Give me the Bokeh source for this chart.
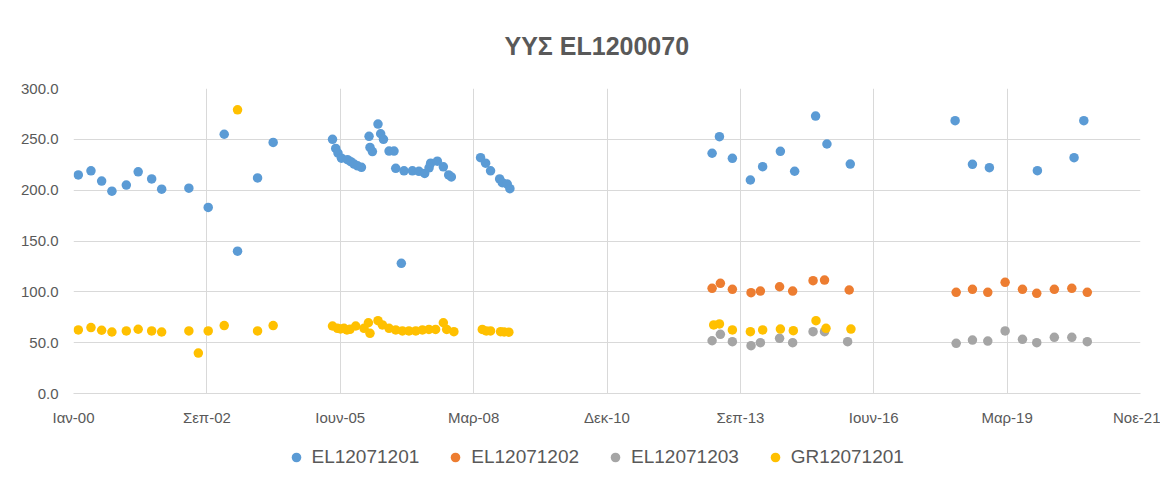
import pandas as pd
from bokeh.plotting import figure
from bokeh.layouts import column
from bokeh.models import FixedTicker, NumeralTickFormatter, Legend, LegendItem, Title
from bokeh.embed import file_html
from bokeh.resources import INLINE

TITLE = "ΥΥΣ EL1200070"
ORIGIN = "2000-01-01"

x_tick_days = [0, 1000, 2000, 3000, 4000, 5000, 6000, 7000, 8000]
x_tick_labels = ["Ιαν-00", "Σεπ-02", "Ιουν-05", "Μαρ-08", "Δεκ-10", "Σεπ-13", "Ιουν-16", "Μαρ-19", "Νοε-21"]
y_ticks = [0, 50, 100, 150, 200, 250, 300]

s1_name = "EL12071201"
s1_dates = ["2000-02-06", "2000-05-11", "2000-07-30", "2000-10-15", "2001-01-31", "2001-04-30",
            "2001-08-09", "2001-10-23", "2002-05-15", "2002-10-07", "2003-02-04", "2003-05-15",
            "2003-10-12", "2004-02-06",
            "2005-04-26", "2005-05-20", "2005-06-06", "2005-07-02", "2005-08-16", "2005-09-10",
            "2005-10-05", "2005-10-30", "2005-11-29", "2006-01-25", "2006-02-01", "2006-02-19",
            "2006-04-02", "2006-04-22", "2006-05-13", "2006-06-24", "2006-07-31", "2006-08-13",
            "2006-09-24", "2006-10-14", "2006-12-16", "2007-02-03", "2007-03-18", "2007-04-20",
            "2007-05-02", "2007-06-21", "2007-08-05", "2007-09-14", "2007-10-04",
            "2008-05-10", "2008-06-17", "2008-07-24", "2008-09-30", "2008-10-20", "2008-11-26",
            "2008-12-16",
            "2013-02-09", "2013-04-05", "2013-07-11", "2013-11-23", "2014-02-23", "2014-07-06",
            "2014-10-21", "2015-03-27", "2015-06-20", "2015-12-12",
            "2018-02-05", "2018-06-15", "2018-10-20", "2019-10-15", "2020-07-16", "2020-09-27"]
s1_values = [215, 219, 209, 199, 205, 218,
             211, 201, 202, 183, 255, 140,
             212, 247,
             250, 241, 236.5, 231.5, 230, 228,
             225.7, 224, 222.5, 253, 242, 238,
             265, 255.5, 250, 238.5, 238.5, 221.5,
             128, 219, 219, 218.5, 216.5, 222,
             226.5, 228.5, 223, 215, 213,
             232, 226.5, 219, 211, 207.4, 206,
             201.5,
             236.3, 252.6, 231.3, 210, 223.1, 238.2,
             218.6, 272.9, 245.4, 225.7,
             268.3, 225.4, 222.1, 219.2, 232, 268.3]

s2_name = "EL12071202"
s2_dates = ["2013-02-09", "2013-04-12", "2013-07-11", "2013-11-28", "2014-02-06", "2014-06-30",
            "2014-10-06", "2015-03-08", "2015-06-02", "2015-12-04",
            "2018-02-13", "2018-06-15", "2018-10-08", "2019-02-15", "2019-06-25", "2019-10-10",
            "2020-02-19", "2020-06-29", "2020-10-23"]
s2_values = [103.5, 108.4, 102.5, 99.2, 100.8, 105,
             100.8, 111, 111.6, 101.8,
             99.5, 102.5, 99.5, 109.4, 102.5, 98.5,
             102.5, 103.5, 99.5]

s3_name = "EL12071203"
s3_dates = ["2013-02-09", "2013-04-12", "2013-07-11", "2013-11-28", "2014-02-06", "2014-06-30",
            "2014-10-06", "2015-03-08", "2015-06-02", "2015-11-22",
            "2018-02-13", "2018-06-15", "2018-10-08", "2019-02-15", "2019-06-25", "2019-10-10",
            "2020-02-19", "2020-06-29", "2020-10-23"]
s3_values = [51.9, 58.2, 51, 47, 50, 54.3,
             50, 60.8, 60.8, 51,
             49.4, 52.6, 51.6, 61.5, 53.3, 50,
             55.3, 55.3, 51]

s4_name = "GR12071201"
s4_dates = ["2000-02-06", "2000-05-11", "2000-07-30", "2000-10-15", "2001-01-31", "2001-04-30",
            "2001-08-09", "2001-10-23", "2002-05-15", "2002-07-25", "2002-10-07", "2003-02-04",
            "2003-05-15", "2003-10-12", "2004-02-06",
            "2005-04-26", "2005-06-02", "2005-06-25", "2005-07-21", "2005-08-12", "2005-09-04",
            "2005-10-17", "2005-12-18", "2006-01-20", "2006-02-01", "2006-04-02", "2006-05-05",
            "2006-06-24", "2006-08-13", "2006-10-02", "2006-11-20", "2007-01-10", "2007-03-01",
            "2007-04-19", "2007-06-08", "2007-08-05", "2007-08-30", "2007-10-23",
            "2008-05-23", "2008-06-22", "2008-07-24", "2008-10-07", "2008-11-03", "2008-12-08",
            "2013-02-21", "2013-04-05", "2013-07-11", "2013-11-23", "2014-02-23", "2014-07-06",
            "2014-10-11", "2015-03-30", "2015-06-13", "2015-12-17"]
s4_values = [62.5, 64.8, 62.2, 60.5, 61.5, 63.2,
             61.5, 60.5, 61.5, 39.8, 61.5, 66.8,
             279, 61.5, 66.8,
             66.4, 64.1, 63.5, 64.1, 62.5, 63.1,
             66.4, 64.1, 69.6, 59.2, 71.6, 67.4,
             64.1, 62.5, 61.5, 61.5, 61.5, 62.5,
             63, 63, 69.6, 63, 60.8,
             63, 61.5, 61.5, 60.8, 60.5, 60.3,
             67.4, 68.4, 62.5, 60.8, 62.5, 63.4,
             61.8, 71.6, 64.1, 63.4]

colors = ["#5B9BD5", "#ED7D31", "#A5A5A5", "#FFC000"]
TEXT = "#595959"
GRID = "#D9D9D9"
FONT = "Liberation Sans"


def to_days(dates):
    return list((pd.to_datetime(dates) - pd.Timestamp(ORIGIN)).days)


series = [(s1_name, s1_dates, s1_values), (s2_name, s2_dates, s2_values),
          (s3_name, s3_dates, s3_values), (s4_name, s4_dates, s4_values)]

# main chart
p = figure(width=1160, height=428, output_backend="svg", toolbar_location=None,
           x_range=(x_tick_days[0], x_tick_days[-1]), y_range=(y_ticks[0], y_ticks[-1]),
           min_border_left=73, min_border_right=20, min_border_top=88, min_border_bottom=35)
p.outline_line_color = None
p.background_fill_color = "white"
p.border_fill_color = "white"

title = Title(text=TITLE, align="left", offset=431, text_font=FONT, text_font_size="25px",
              text_font_style="bold", text_color=TEXT, standoff=57)
p.add_layout(title, "above")

p.xaxis.ticker = FixedTicker(ticks=x_tick_days)
p.xaxis.major_label_overrides = {float(t): l for t, l in zip(x_tick_days, x_tick_labels)}
p.yaxis.ticker = FixedTicker(ticks=y_ticks)
p.yaxis.formatter = NumeralTickFormatter(format="0.0")
for ax in (p.xaxis, p.yaxis):
    ax.major_tick_line_color = None
    ax.minor_tick_line_color = None
    ax.major_label_text_font = FONT
    ax.major_label_text_font_size = "15px"
    ax.major_label_text_color = TEXT
p.yaxis.axis_line_color = None
p.xaxis.axis_line_color = GRID
p.xaxis.major_label_standoff = 9
p.yaxis.major_label_standoff = 9
p.xgrid.grid_line_color = GRID
p.ygrid.grid_line_color = GRID
p.xgrid.ticker = FixedTicker(ticks=x_tick_days)
p.ygrid.ticker = FixedTicker(ticks=y_ticks)

for (name, d, v), c in zip(series, colors):
    p.scatter(to_days(d), v, size=9.5, fill_color=c, line_color=None)

# legend strip (same series, drawn out of its view so only the legend shows)
pl = figure(width=1160, height=45, output_backend="svg", toolbar_location=None,
            x_axis_type=None, y_axis_type=None, x_range=(0, 1), y_range=(-2000, -1000),
            min_border_left=0, min_border_right=0, min_border_top=0, min_border_bottom=0)
pl.outline_line_color = None
pl.background_fill_color = "white"
pl.border_fill_color = "white"
items = []
for (name, d, v), c in zip(series, colors):
    r = pl.scatter(to_days(d), v, size=9.5, fill_color=c, line_color=None)
    items.append(LegendItem(label=name, renderers=[r]))

legend = Legend(items=items, orientation="horizontal", location=(210.5, 4.5),
                glyph_width=24, glyph_height=24, label_standoff=4, spacing=24,
                padding=0, margin=0, border_line_color=None, background_fill_alpha=0,
                label_text_font=FONT, label_text_font_size="19px", label_text_color=TEXT)
pl.add_layout(legend, "center")

layout = column(p, pl, spacing=0)
open("out.html", "w").write(file_html(layout, INLINE))
